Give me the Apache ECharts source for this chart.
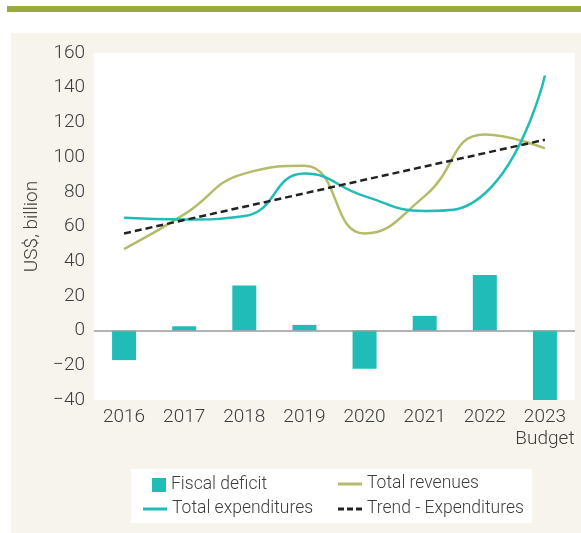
<!DOCTYPE html>
<html>
<head>
<meta charset="utf-8">
<script src="https://cdn.jsdelivr.net/npm/echarts@6/dist/echarts.min.js"></script>
<style>
  html, body { margin: 0; padding: 0; background: #fff; }
  #chart { width: 581px; height: 533px; }
</style>
</head>
<body>
<div id="chart"></div>
<script>
// data
const years = ["2016", "2017", "2018", "2019", "2020", "2021", "2022", "2023\nBudget"];
const fiscalDeficit = [-17, 2.5, 26, 3.3, -22, 8.5, 32, -40];
const totalRevenues = [47, 67, 90.5, 95, 56, 77.5, 113, 105];
const totalExpenditures = [65, 64, 66, 90.5, 77.5, 69, 79, 147];
const trendExpenditures = [56, 63.7, 71.4, 79.1, 86.9, 94.6, 102.3, 110];
const yTicks = { min: -40, max: 160, interval: 20 };

const FONT = "Roboto, 'Liberation Sans', sans-serif";
const TEXT = "#3d3d3d";
const TEAL = "#21bcb7";
const OLIVE = "#b4bc6b";

const chart = echarts.init(document.getElementById("chart"));

const legendText = { color: TEXT, fontSize: 17.5, fontWeight: 300, fontFamily: FONT };
// line keys drawn as flat paths so no marker dot shows
const DASH = "path://M0,0h6v3h-6z M9,0h6v3h-6z M18,0h6v3h-6z";
function legendItem(name, left, top, w, h, icon) {
  return {
    data: [{ name: name, icon: icon }],
    left: left,
    top: top,
    itemWidth: w,
    itemHeight: h,
    itemGap: 5,
    padding: 0,
    textStyle: legendText,
    selectedMode: false,
  };
}

const option = {
  animation: false,
  graphic: [
    // beige panel
    { type: "rect", z: -100, shape: { x: 11, y: 33, width: 570, height: 500 }, style: { fill: "#f7f3ed" } },
    // green top rule
    { type: "rect", z: -100, shape: { x: 7, y: 6, width: 574, height: 6 }, style: { fill: "#9bab3b" } },
    // legend box
    { type: "rect", z: -100, shape: { x: 131, y: 469, width: 401, height: 54 }, style: { fill: "#ffffff" } },
  ],
  grid: {
    left: 94,
    right: 6,
    top: 53,
    bottom: 133,
    show: true,
    backgroundColor: "#ffffff",
    borderWidth: 0,
  },
  legend: [
    legendItem("Fiscal deficit", 152, 476, 14, 14, "rect"),
    legendItem("Total revenues", 338, 475, 24, 3, "rect"),
    legendItem("Total expenditures", 143, 500, 24, 3, "rect"),
    legendItem("Trend - Expenditures", 338, 500, 24, 3, DASH),
  ],
  xAxis: {
    type: "category",
    data: years,
    axisLine: { show: false, onZero: false },
    axisTick: { show: false },
    axisLabel: {
      color: TEXT,
      fontSize: 19,
      fontWeight: 300,
      fontFamily: FONT,
      margin: 6,
      lineHeight: 22,
      interval: 0,
    },
  },
  yAxis: {
    type: "value",
    min: yTicks.min,
    max: yTicks.max,
    interval: yTicks.interval,
    name: "US$, billion",
    nameLocation: "middle",
    nameGap: 50,
    nameTextStyle: { color: TEXT, fontSize: 19, fontWeight: 300, fontFamily: FONT },
    splitLine: { show: false },
    axisLine: { show: false },
    axisTick: { show: false },
    axisLabel: {
      color: TEXT,
      fontSize: 19,
      fontWeight: 300,
      fontFamily: FONT,
      margin: 9,
      formatter: (v) => String(v).replace("-", "\u2212"),
    },
  },
  series: [
    {
      name: "Fiscal deficit",
      type: "bar",
      data: fiscalDeficit,
      barWidth: 24,
      itemStyle: { color: TEAL },
      markLine: {
        silent: true,
        symbol: "none",
        label: { show: false },
        lineStyle: { color: "#9a9a9a", type: "solid", width: 1.5 },
        data: [{ yAxis: 0 }],
      },
    },
    {
      name: "Total revenues",
      type: "line",
      data: totalRevenues,
      smooth: 0.5,
      symbol: "none",
      lineStyle: { color: OLIVE, width: 2.5 },
      itemStyle: { color: OLIVE },
    },
    {
      name: "Total expenditures",
      type: "line",
      data: totalExpenditures,
      smooth: 0.5,
      symbol: "none",
      lineStyle: { color: TEAL, width: 2.5 },
      itemStyle: { color: TEAL },
    },
    {
      name: "Trend - Expenditures",
      type: "line",
      data: trendExpenditures,
      symbol: "none",
      lineStyle: { color: "#222222", width: 2.5, type: [7, 4] },
      itemStyle: { color: "#222222" },
    },
  ],
};

chart.setOption(option);
</script>
</body>
</html>
